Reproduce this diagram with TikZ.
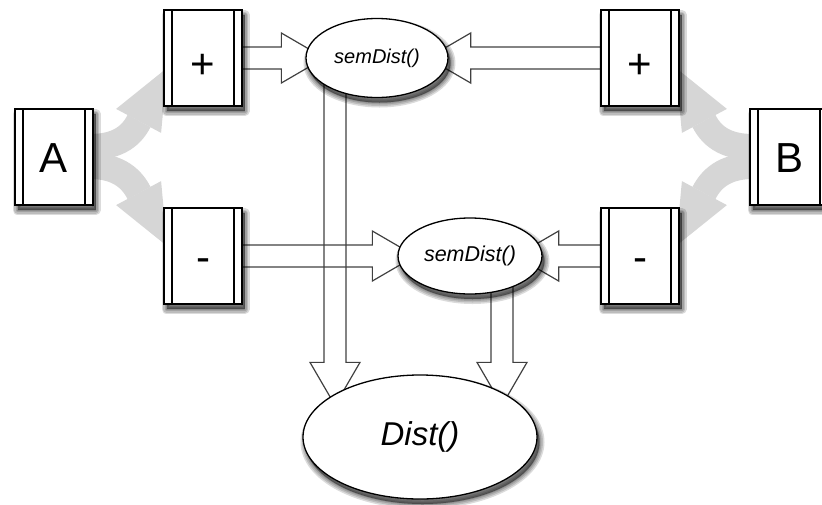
\documentclass[tikz,border=0pt]{standalone}
\usepackage{fontspec}
\setmainfont{Liberation Sans}
\usetikzlibrary{calc,shapes.geometric,backgrounds}

\tikzset{
  shadowring/.style={preaction={draw=black, fill=black, opacity=0.14,
      line width=#1, line join=round,
      transform canvas={shift={(2.5pt,-5pt)}}}},
  softshadow/.style={shadowring=10pt, shadowring=7pt, shadowring=4pt,
      shadowring=1.5pt},
  boxnode/.style={draw, line width=1.8pt, fill=white, softshadow,
    minimum width=78pt, minimum height=96pt, inner sep=0pt,
    font=\fontsize{42}{42}\selectfont, text height=30pt, text depth=0pt,
    path picture={\draw[line width=1.3pt]
      ([xshift=8pt]path picture bounding box.north west) --
      ([xshift=8pt]path picture bounding box.south west)
      ([xshift=-8pt]path picture bounding box.north east) --
      ([xshift=-8pt]path picture bounding box.south east);}},
  funcnode/.style={ellipse, draw, line width=1.3pt, fill=white, softshadow,
    inner sep=0pt},
  blockline/.style={draw=black!75, line width=1.2pt, line join=miter},
  grayshaft/.style={draw=black!16, line width=26pt},
  grayhead/.style={fill=black!16},
}

% hollow block arrow from #1 to the tip #2
\newcommand\blockconn[2]{%
  \coordinate (bc) at ($(#2)!43pt!(#1)$);
  \draw[blockline] ($(#1)!11pt!90:(#2)$) -- ($(bc)!11pt!-90:(#1)$)
    -- ($(bc)!25pt!-90:(#1)$) -- (#2) -- ($(bc)!25pt!90:(#1)$)
    -- ($(bc)!11pt!90:(#1)$) -- ($(#1)!11pt!-90:(#2)$);}

\begin{document}
\begin{tikzpicture}[x=1pt,y=-1pt]
\useasboundingbox (0,0) rectangle (822,504);

% source boxes
\node[boxnode] (A) at (54,157) {A};
\node[boxnode] (B) at (789,157) {B};
\node[boxnode] (lp) at (203,58) {\raisebox{-5pt}{+}};
\node[boxnode] (lm) at (203,256) {-};
\node[boxnode] (rp) at (640,58) {\raisebox{-5pt}{+}};
\node[boxnode] (rm) at (640,256) {-};

% distance functions
\node[funcnode, minimum width=142pt, minimum height=79pt,
  font=\itshape\fontsize{20}{20}\selectfont] (s1) at (377,58) {semDist()};
\node[funcnode, minimum width=144pt, minimum height=76pt,
  font=\itshape\fontsize{21.5}{21.5}\selectfont] (s2) at (470,256) {semDist()};
\node[funcnode, minimum width=234pt, minimum height=124pt,
  font=\itshape\fontsize{33}{33}\selectfont] (d) at (420,437) {Dist()};

\begin{scope}[on background layer]
  % split of A and B into their + and - parts
  \draw[grayshaft] ($(A.east)+(-4,-10)$) .. controls +(24,0) and +(-9,18) .. ($(lp.south west)+(-24,14)$);
  \fill[grayhead] ($(lp.south west)+(-47,2)$) -- ($(lp.south west)+(4,-39)$) -- ($(lp.south west)+(-2,26)$) -- cycle;
  \draw[grayshaft] ($(A.east)+(-4,9)$) .. controls +(24,0) and +(-9,-18) .. ($(lm.north west)+(-24,-14)$);
  \fill[grayhead] ($(lm.north west)+(-47,-2)$) -- ($(lm.north west)+(4,39)$) -- ($(lm.north west)+(-2,-26)$) -- cycle;
  \draw[grayshaft] ($(B.west)+(4,-10)$) .. controls +(-24,0) and +(9,18) .. ($(rp.south east)+(24,14)$);
  \fill[grayhead] ($(rp.south east)+(47,2)$) -- ($(rp.south east)+(-4,-39)$) -- ($(rp.south east)+(2,26)$) -- cycle;
  \draw[grayshaft] ($(B.west)+(4,9)$) .. controls +(-24,0) and +(9,-18) .. ($(rm.north east)+(24,-14)$);
  \fill[grayhead] ($(rm.north east)+(47,-2)$) -- ($(rm.north east)+(-4,39)$) -- ($(rm.north east)+(2,-26)$) -- cycle;

  % block arrows into the functions
  \coordinate (t1) at ($(s1.west)+(19,0)$);
  \blockconn{lp.east |- t1}{t1}
  \coordinate (t2) at ($(s1.east)+(-21,0)$);
  \blockconn{rp.west |- t2}{t2}
  \coordinate (t3) at ($(s2.west)+(18,0)$);
  \blockconn{lm.east |- t3}{t3}
  \coordinate (t4) at ($(s2.east)+(-27,0)$);
  \blockconn{rm.west |- t4}{t4}
  \coordinate (v1s) at ($(s1.center)+(-42,22)$);
  \coordinate (t5) at ($(v1s |- d.north)+(0,31)$);
  \blockconn{v1s}{t5}
  \coordinate (v2s) at ($(s2.center)+(32,24)$);
  \coordinate (t6) at ($(v2s |- d.north)+(0,31)$);
  \blockconn{v2s}{t6}
\end{scope}
\end{tikzpicture}
\end{document}
